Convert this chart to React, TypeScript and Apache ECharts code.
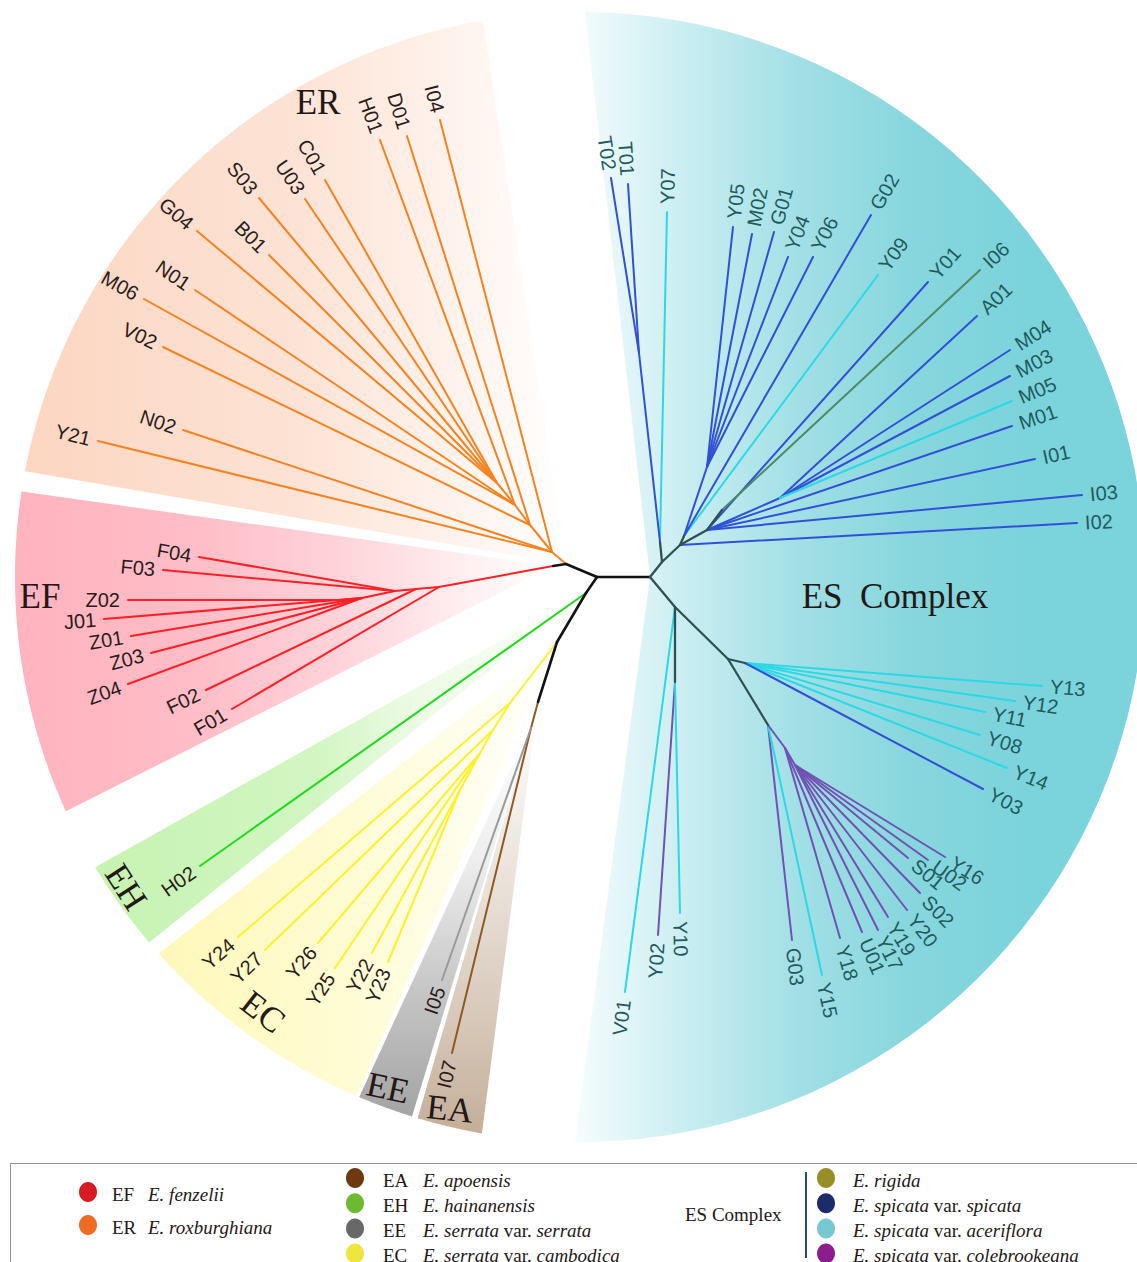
import React, { useEffect, useRef } from "react";
import * as echarts from "echarts";

// ---------- DATA ----------
// tree nodes: [id, parent, x, y, branch colour key]
type NodeRow = [string, string, number, number, string];

const treeNodes: NodeRow[] = [
  ["L", "", 597, 577, "k"],
  ["R", "L", 650, 577, "k"],
  ["A", "L", 566, 564, "k"],
  ["E0", "A", 553, 566, "k"],
  // EF
  ["f1", "E0", 439, 587, "r"],
  ["F01", "f1", 232, 709, "r"],
  ["f2", "f1", 416, 589, "r"],
  ["F02", "f2", 206, 690, "r"],
  ["f3", "f2", 395, 591, "r"],
  ["F04", "f3", 199, 557, "r"],
  ["F03", "f3", 163, 570, "r"],
  ["f4", "f3", 362, 598, "r"],
  ["J01", "f4", 104, 619, "r"],
  ["Z01", "f4", 131, 636, "r"],
  ["Z03", "f4", 151, 653, "r"],
  ["Z04", "f4", 128, 684, "r"],
  ["f5", "f4", 340, 600, "r"],
  ["Z02", "f5", 128, 600, "r"],
  // ER
  ["e1", "A", 552, 552, "o"],
  ["Y21", "e1", 98, 441, "o"],
  ["N02", "e1", 183, 430, "o"],
  ["I04", "e1", 440, 120, "o"],
  ["e2", "e1", 530, 525, "o"],
  ["D01", "e2", 407, 136, "o"],
  ["V02", "e2", 163, 347, "o"],
  ["e3", "e2", 515, 505, "o"],
  ["H01", "e3", 380, 140, "o"],
  ["M06", "e3", 144, 299, "o"],
  ["N01", "e3", 195, 290, "o"],
  ["e4", "e3", 497, 483, "o"],
  ["C01", "e4", 325, 180, "o"],
  ["U03", "e4", 305, 199, "o"],
  ["S03", "e4", 259, 198, "o"],
  ["B01", "e4", 269, 255, "o"],
  ["G04", "e4", 197, 231, "o"],
  // EH / EC / EE / EA
  ["B1", "L", 586, 593, "k"],
  ["H02", "B1", 200, 866, "g"],
  ["B2", "B1", 557, 642, "k"],
  ["y1", "B2", 510, 703, "y"],
  ["Y24", "y1", 238, 937, "y"],
  ["y2", "y1", 493, 730, "y"],
  ["Y27", "y2", 265, 950, "y"],
  ["y3", "y2", 480, 753, "y"],
  ["Y26", "y3", 318, 943, "y"],
  ["Y25", "y3", 335, 968, "y"],
  ["y4", "y3", 460, 790, "y"],
  ["Y22", "y4", 372, 953, "y"],
  ["Y23", "y4", 388, 962, "y"],
  ["B3", "B2", 538, 702, "k"],
  ["B4", "B3", 531, 728, "a"],
  ["I07", "B4", 452, 1053, "a"],
  ["I05", "B4", 442, 980, "e"],
  // ES complex, upper
  ["S1", "R", 662, 562, "d"],
  ["t0", "S1", 660, 542, "d"],
  ["Y07", "t0", 667, 212, "c"],
  ["t1", "t0", 639, 353, "b"],
  ["T02", "t1", 611, 178, "b"],
  ["T01", "t1", 628, 184, "b"],
  ["S2", "S1", 680, 545, "d"],
  ["I02", "S2", 1077, 523, "b"],
  ["u1", "S2", 684, 536, "d"],
  ["Y09", "u1", 878, 275, "c"],
  ["G02", "u1", 871, 215, "b"],
  ["u2", "u1", 707, 467, "b"],
  ["Y05", "u2", 733, 227, "b"],
  ["M02", "u2", 752, 234, "b"],
  ["G01", "u2", 774, 232, "b"],
  ["Y04", "u2", 788, 257, "b"],
  ["Y06", "u2", 813, 257, "b"],
  ["u3", "S2", 707, 530, "d"],
  ["I03", "u3", 1082, 495, "b"],
  ["I01", "u3", 1035, 459, "b"],
  ["M01", "u3", 1012, 426, "b"],
  ["Y01", "u3", 928, 282, "b"],
  ["u4", "u3", 722, 510, "d"],
  ["I06", "u4", 980, 270, "v"],
  ["u5", "u3", 780, 498, "b"],
  ["A01", "u5", 977, 316, "b"],
  ["M04", "u5", 1010, 350, "b"],
  ["M03", "u5", 1010, 376, "b"],
  ["M05", "u5", 1012, 401, "c"],
  // ES complex, lower
  ["S3", "R", 675, 607, "d"],
  ["V01", "S3", 625, 992, "c"],
  ["S4", "S3", 675, 682, "d"],
  ["Y02", "S4", 658, 935, "p"],
  ["Y10", "S4", 680, 913, "c"],
  ["S5", "S3", 728, 659, "d"],
  ["c1", "S5", 745, 663, "d"],
  ["Y13", "c1", 1042, 686, "c"],
  ["Y12", "c1", 1015, 701, "c"],
  ["Y11", "c1", 985, 712, "c"],
  ["Y08", "c1", 980, 735, "c"],
  ["Y14", "c1", 1007, 768, "c"],
  ["Y03", "c1", 983, 789, "b"],
  ["S6", "S5", 768, 725, "d"],
  ["G03", "S6", 792, 940, "p"],
  ["Y15", "S6", 822, 975, "c"],
  ["P1", "S6", 785, 748, "p"],
  ["Y18", "P1", 840, 938, "p"],
  ["U01", "P1", 862, 932, "p"],
  ["P2", "P1", 795, 765, "p"],
  ["Y17", "P2", 878, 930, "p"],
  ["Y19", "P2", 888, 917, "p"],
  ["Y20", "P2", 907, 910, "p"],
  ["S02", "P2", 920, 893, "p"],
  ["S01", "P2", 908, 858, "p"],
  ["U02", "P2", 928, 860, "p"],
  ["Y16", "P2", 945, 857, "p"],
];

// clade highlight wedges: [clade, apexX, apexY, fromAngle, toAngle] (degrees, clockwise from +x)
const cladeWedges: [string, number, number, number, number][] = [
  ["ES", 650, 577, -89.5, 90.5],
  ["ER", 566, 564, 190.8, 260.1],
  ["EF", 553, 566, 155.5, 188.7],
  ["EH", 586, 593, 139.7, 149.1],
  ["EC", 557, 642, 113.3, 138.2],
  ["EE", 533, 720, 107.3, 113.0],
  ["EA", 538, 702, 100.0, 106.7],
];
const HUB: [number, number] = [580, 577];
const HUB_RADIUS = 565;

// clade names: [text, x, y, rotation (deg clockwise)]
const cladeLabels: [string, number, number, number][] = [
  ["ER", 318, 102, 0],
  ["EF", 40, 596, 0],
  ["EH", 126, 887, 57],
  ["EC", 263, 1012, 38],
  ["EE", 388, 1088, 12],
  ["EA", 450, 1109, 6],
  ["ES  Complex", 895, 596, 0],
];

// legend
const legendLeft: [string, string, string][] = [
  ["EF", "{i|E. fenzelii}", "#d81b22"],
  ["ER", "{i|E. roxburghiana}", "#ee6b21"],
];
const legendMid: [string, string, string][] = [
  ["EA", "{i|E. apoensis}", "#6b3a10"],
  ["EH", "{i|E. hainanensis}", "#6cba2f"],
  ["EE", "{i|E. serrata} var. {i|serrata}", "#686868"],
  ["EC", "{i|E. serrata} var. {i|cambodica}", "#eee63c"],
];
const legendES: [string, string][] = [
  ["{i|E. rigida}", "#978f26"],
  ["{i|E. spicata} var. {i|spicata}", "#1b2b6c"],
  ["{i|E. spicata} var. {i|aceriflora}", "#77c8d3"],
  ["{i|E. spicata} var. {i|colebrookeana}", "#8b1d8c"],
];

// ---------- STYLE ----------
const branchColours: Record<string, string> = {
  k: "#121212",
  o: "#f7821f",
  r: "#ff1f24",
  g: "#1ed91e",
  y: "#fff02a",
  e: "#9a9a9a",
  a: "#8d5a26",
  d: "#2f5151",
  b: "#3150d6",
  c: "#2cd8e6",
  p: "#7052b4",
  v: "#4e8a64",
};

const wedgeFill: Record<string, any> = {
  ES: new echarts.graphic.LinearGradient(0, 0, 1, 0, [
    { offset: 0, color: "#f6fcfd" },
    { offset: 0.2, color: "#c8edf1" },
    { offset: 0.4, color: "#a0dfe5" },
    { offset: 0.6, color: "#86d6dd" },
    { offset: 0.8, color: "#7bd3db" },
    { offset: 1, color: "#7bd3db" },
  ]),
  ER: new echarts.graphic.LinearGradient(0, 0, 1, 0, [
    { offset: 0, color: "#fcd6c1" },
    { offset: 0.5, color: "#fde3d5" },
    { offset: 0.8, color: "#fff3ed" },
    { offset: 1, color: "#ffffff" },
  ]),
  EF: new echarts.graphic.LinearGradient(0, 0, 1, 0, [
    { offset: 0, color: "#ffb3be" },
    { offset: 0.35, color: "#ffbec8" },
    { offset: 0.6, color: "#ffd3d9" },
    { offset: 0.85, color: "#fff0f2" },
    { offset: 1, color: "#ffffff" },
  ]),
  EH: new echarts.graphic.LinearGradient(0, 0, 1, 0, [
    { offset: 0, color: "#c6f3b1" },
    { offset: 0.45, color: "#d2f6c2" },
    { offset: 0.65, color: "#ecfbe4" },
    { offset: 1, color: "#ffffff" },
  ]),
  EC: new echarts.graphic.LinearGradient(0, 0, 1, 0, [
    { offset: 0, color: "#fff8b9" },
    { offset: 0.5, color: "#fffcd5" },
    { offset: 1, color: "#ffffff" },
  ]),
  EE: new echarts.graphic.LinearGradient(0, 0, 0, 1, [
    { offset: 0, color: "#ffffff" },
    { offset: 0.35, color: "#eeeeee" },
    { offset: 0.7, color: "#c4c4c4" },
    { offset: 1, color: "#a4a4a4" },
  ]),
  EA: new echarts.graphic.LinearGradient(0, 0, 0, 1, [
    { offset: 0, color: "#ffffff" },
    { offset: 0.4, color: "#ebe3db" },
    { offset: 0.75, color: "#d6c7b8" },
    { offset: 1, color: "#c4ae99" },
  ]),
};

const SANS = '"Liberation Sans", Arial, sans-serif';
const SERIF = '"Liberation Serif", "Times New Roman", serif';
const LABEL_GAP = 8;
const TIP_FONT = 20;
const LEGEND_FONT = 19;

export default function App() {
  const ref = useRef<HTMLDivElement>(null);

  useEffect(() => {
    const chart = echarts.init(ref.current!, null, { renderer: "svg" });

    const byId = new Map<string, NodeRow>(treeNodes.map((n) => [n[0], n]));
    const parentIds = new Set(treeNodes.map((n) => n[1]));
    const edgesAll = treeNodes
      .filter((n) => n[1])
      .map((n) => {
        const p = byId.get(n[1])!;
        return { x1: p[2], y1: p[3], x2: n[2], y2: n[3], key: n[4] };
      });
    const backbone = (k: string) => k === "k" || k === "d";
    const edges = [
      ...edgesAll.filter((e) => !backbone(e.key)),
      ...edgesAll.filter((e) => backbone(e.key)),
    ];
    const leaves = treeNodes
      .filter((n) => !parentIds.has(n[0]))
      .map((n) => {
        const p = byId.get(n[1])!;
        return {
          name: n[0],
          x: n[2],
          y: n[3],
          dx: n[2] - p[2],
          dy: n[3] - p[3],
          es: "bcpv".includes(n[4]),
        };
      });

    const textStyle = (o: any) => ({
      ...o,
      textAlign: o.align,
      textVerticalAlign: o.verticalAlign,
    });

    const graphics: any[] = [];
    // legend frame
    graphics.push({
      type: "polyline",
      shape: { points: [[10.5, 1275], [10.5, 1163.5], [1140, 1163.5]] },
      style: { stroke: "#8f8f8f", lineWidth: 1, fill: null },
    });
    const rich = {
      i: { fontStyle: "italic", fontFamily: SERIF, fontSize: LEGEND_FONT, fill: "#231815" },
    };
    const addItem = (cx: number, cy: number, color: string, code: string | null, codeX: number, spX: number, sp: string) => {
      graphics.push({ type: "ellipse", shape: { cx, cy, rx: 9, ry: 10 }, style: { fill: color } });
      if (code) {
        graphics.push({
          type: "text",
          x: codeX,
          y: cy + 2,
          style: { text: code, fontFamily: SERIF, fontSize: LEGEND_FONT, fill: "#231815", verticalAlign: "middle", textVerticalAlign: "middle" },
        });
      }
      graphics.push({
        type: "text",
        x: spX,
        y: cy + 2,
        style: { text: sp, rich, fontFamily: SERIF, fontSize: LEGEND_FONT, fill: "#231815", verticalAlign: "middle", textVerticalAlign: "middle" },
      });
    };
    legendLeft.forEach((r, i) => addItem(88, 1192 + i * 33, r[2], r[0], 112, 148, r[1]));
    legendMid.forEach((r, i) => addItem(355, 1178 + i * 25.2, r[2], r[0], 383, 423, r[1]));
    legendES.forEach((r, i) => addItem(826, 1178 + i * 25.2, r[1], null, 0, 853, r[0]));
    graphics.push({
      type: "text",
      x: 685,
      y: 1214,
      style: { text: "ES Complex", fontFamily: SERIF, fontSize: LEGEND_FONT, fill: "#231815", verticalAlign: "middle", textVerticalAlign: "middle" },
    });
    graphics.push({
      type: "line",
      shape: { x1: 806, y1: 1172, x2: 806, y2: 1258 },
      style: { stroke: "#1f45a0", lineWidth: 2 },
    });

    const option: any = {
      animation: false,
      grid: { left: 0, right: 0, top: 0, bottom: 0 },
      xAxis: { type: "value", min: 0, max: 1137, show: false },
      yAxis: { type: "value", min: 0, max: 1262, inverse: true, show: false },
      series: [
        {
          type: "custom",
          name: "wedges",
          silent: true,
          z: 1,
          data: cladeWedges.map((w) => [w[1], w[2], w[3], w[4]]),
          renderItem: (params: any, api: any) => {
            const w = cladeWedges[params.dataIndex];
            const pts: number[][] = [api.coord([w[1], w[2]])];
            const steps = 80;
            for (let s = 0; s <= steps; s++) {
              const a = ((w[3] + ((w[4] - w[3]) * s) / steps) * Math.PI) / 180;
              pts.push(api.coord([HUB[0] + HUB_RADIUS * Math.cos(a), HUB[1] + HUB_RADIUS * Math.sin(a)]));
            }
            return { type: "polygon", shape: { points: pts }, style: { fill: wedgeFill[w[0]] } };
          },
        },
        {
          type: "custom",
          name: "branches",
          silent: true,
          z: 2,
          data: edges.map((e) => [e.x1, e.y1, e.x2, e.y2]),
          renderItem: (params: any, api: any) => {
            const e = edges[params.dataIndex];
            const p1 = api.coord([api.value(0), api.value(1)]);
            const p2 = api.coord([api.value(2), api.value(3)]);
            return {
              type: "line",
              shape: { x1: p1[0], y1: p1[1], x2: p2[0], y2: p2[1] },
              style: {
                stroke: branchColours[e.key],
                lineWidth: e.key === "k" ? 2.6 : e.key === "d" ? 2.3 : 2,
                lineCap: "round",
              },
            };
          },
        },
        {
          type: "custom",
          name: "tips",
          silent: true,
          z: 3,
          data: leaves.map((l) => [l.x, l.y]),
          renderItem: (params: any, api: any) => {
            const l = leaves[params.dataIndex];
            const pt = api.coord([l.x, l.y]);
            const q = api.coord([l.x + l.dx, l.y + l.dy]);
            let vx = q[0] - pt[0];
            let vy = q[1] - pt[1];
            const len = Math.hypot(vx, vy) || 1;
            vx /= len;
            vy /= len;
            const outward = vx >= 0;
            const ang = outward ? Math.atan2(vy, vx) : Math.atan2(-vy, -vx);
            return {
              type: "text",
              x: pt[0] + vx * LABEL_GAP,
              y: pt[1] + vy * LABEL_GAP,
              rotation: -ang,
              style: textStyle({
                text: l.name,
                fill: l.es ? "#1f5b5d" : "#2a1c1a",
                fontSize: TIP_FONT,
                fontFamily: SANS,
                align: outward ? "left" : "right",
                verticalAlign: "middle",
              }),
            };
          },
        },
        {
          type: "custom",
          name: "clades",
          silent: true,
          z: 4,
          data: cladeLabels.map((c) => [c[1], c[2]]),
          renderItem: (params: any, api: any) => {
            const c = cladeLabels[params.dataIndex];
            const p = api.coord([c[1], c[2]]);
            return {
              type: "text",
              x: p[0],
              y: p[1],
              rotation: (-c[3] * Math.PI) / 180,
              style: textStyle({
                text: c[0],
                fill: "#231815",
                fontSize: 35,
                fontFamily: SERIF,
                align: "center",
                verticalAlign: "middle",
              }),
            };
          },
        },
      ],
      graphic: graphics,
    };

    chart.setOption(option);
    return () => chart.dispose();
  }, []);

  return (
    <div
      ref={ref}
      style={{ position: "absolute", left: 0, top: 0, width: 1137, height: 1262, background: "#ffffff" }}
    />
  );
}
